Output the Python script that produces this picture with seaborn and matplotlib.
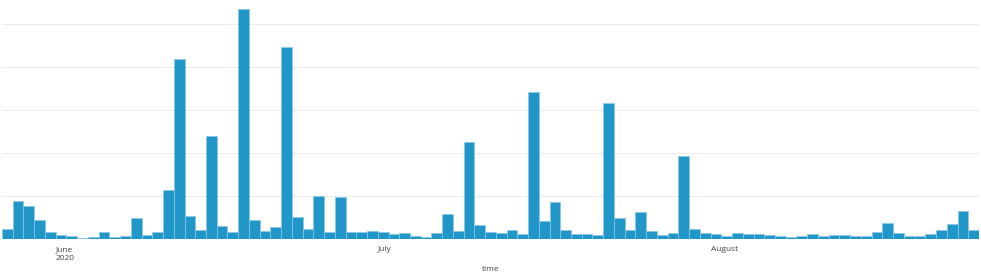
import matplotlib
matplotlib.use("Agg")
import matplotlib.pyplot as plt
import matplotlib.dates as mdates
import seaborn as sns
import pandas as pd
import numpy as np

start_date = "2020-05-27"
counts = [12, 44, 38, 22, 8, 5, 4, 1, 2, 8,
          2, 4, 24, 5, 8, 57, 209, 27, 11, 120,
          15, 8, 267, 22, 9, 14, 223, 26, 12, 50,
          8, 49, 8, 8, 9, 8, 6, 7, 4, 2,
          7, 29, 9, 113, 16, 8, 7, 10, 6, 171,
          21, 43, 10, 6, 6, 5, 158, 25, 10, 31,
          9, 5, 7, 96, 12, 7, 6, 4, 7, 6,
          6, 5, 4, 2, 3, 6, 4, 5, 5, 4,
          4, 8, 19, 7, 4, 4, 6, 10, 18, 33, 11]
tick_dates = ["2020-06-01", "2020-07-01", "2020-08-01"]
tick_labels = ["June\n2020", "July", "August"]
x_label = "time"

dates = pd.date_range(start_date, periods=len(counts), freq="D")
df = pd.DataFrame({"time": dates, "count": counts})
df["x"] = mdates.date2num(df["time"] + pd.Timedelta(hours=12))

sns.set_style("white")
plt.rcParams["font.family"] = ["Open Sans", "DejaVu Sans"]

fig = plt.figure(figsize=(9.81, 2.77), dpi=100)
ax = fig.add_axes([2 / 981, 38 / 277, 977 / 981, 239 / 277])

sns.barplot(data=df, x="x", y="count", native_scale=True, width=1.0,
            color="#2196c9", saturation=1, edgecolor="#8cc8e4", linewidth=0.5, ax=ax)

x0 = mdates.date2num(dates[0])
x1 = mdates.date2num(dates[-1] + pd.Timedelta(days=1))
ax.set_xlim(x0, x1)
ax.set_ylim(0, 278)
ax.set_yticks([50, 100, 150, 200, 250])
ax.set_yticklabels([])
ax.yaxis.grid(True, color="#ececec", linewidth=0.75)
ax.set_axisbelow(True)
ax.tick_params(axis="y", length=0)
for s in ax.spines.values():
    s.set_visible(False)

ticks = mdates.date2num(pd.to_datetime(tick_dates))
ax.set_xticks(ticks)
ax.set_xticklabels(tick_labels, ha="left", fontsize=6, color="#444444", linespacing=1.35)
ax.tick_params(axis="x", length=2.5, width=0.6, color="#bbbbbb", pad=2.5)
ax.set_xlabel(x_label, fontsize=6, color="#444444", labelpad=3)
ax.set_ylabel("")

fig.savefig("out.png", dpi=100)
